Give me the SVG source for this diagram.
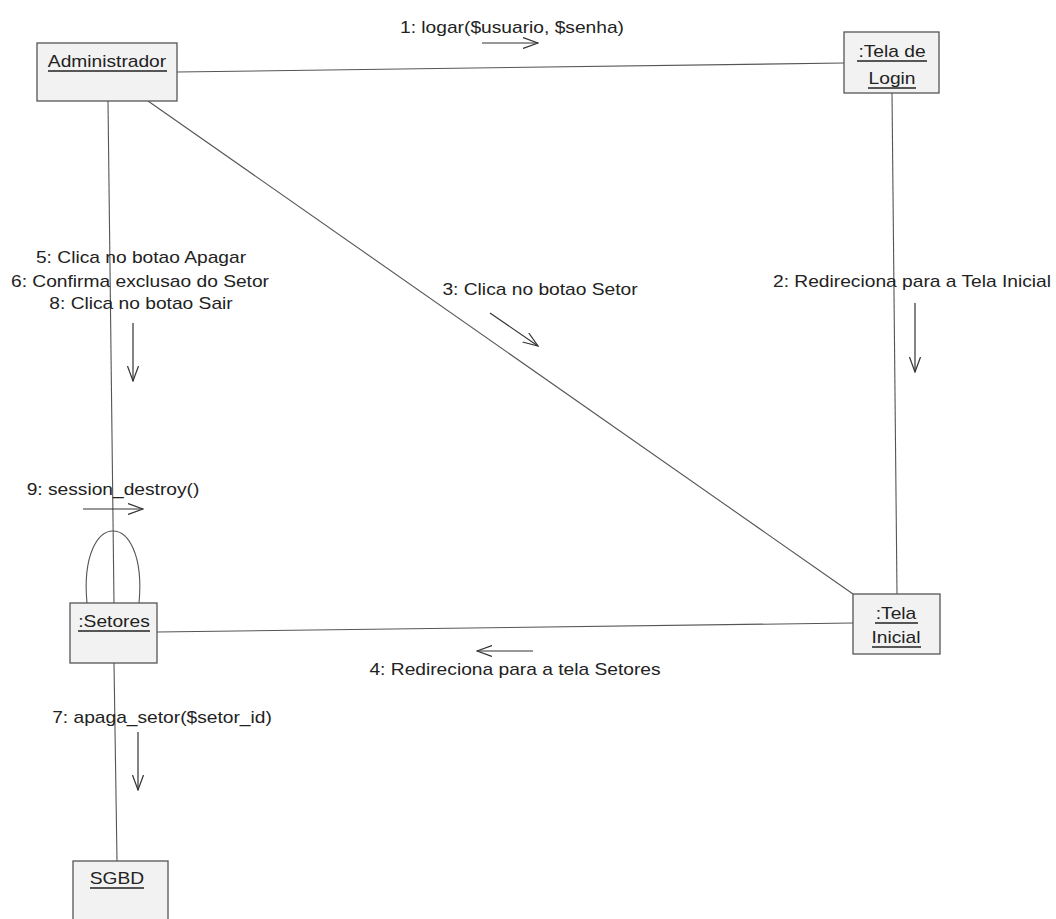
<svg xmlns="http://www.w3.org/2000/svg" width="1056" height="919" viewBox="0 0 1056 919">
<style>
.bg{fill:#ffffff}
.box{fill:#f2f2f2;stroke:#555;stroke-width:1.3}
.ln{fill:none;stroke:#555;stroke-width:1.1}
.arr{fill:none;stroke:#333;stroke-width:1.2;marker-end:url(#v)}
.t{font-family:"Liberation Sans",Arial,sans-serif;font-size:16px;fill:#222;text-anchor:middle}
.ul{stroke:#222;stroke-width:1.6}
</style>
<defs>
<marker id="v" viewBox="0 0 16 12" refX="15" refY="6" markerWidth="16" markerHeight="12" markerUnits="userSpaceOnUse" orient="auto">
<path d="M0,0.5 L15,6 L0,11.5" fill="none" stroke="#333" stroke-width="1.2"/>
</marker>
</defs>
<rect class="bg" x="0" y="0" width="1056" height="919"/>
<g id="connectors">
<line class="ln" x1="177" y1="72" x2="844" y2="63"/>
<line class="ln" x1="108" y1="101" x2="114" y2="603"/>
<line class="ln" x1="148" y1="101" x2="853" y2="594"/>
<line class="ln" x1="892" y1="93" x2="897" y2="594"/>
<line class="ln" x1="157" y1="632" x2="853" y2="623"/>
<line class="ln" x1="114" y1="663" x2="117" y2="861"/>
<path class="ln" d="M87,603 C78,507 148,507 139,603"/>
<text class="t" transform="translate(512,33) scale(1.2,1)">1: logar($usuario, $senha)</text>
<line class="arr" x1="482" y1="43" x2="538" y2="43"/>
<text class="t" transform="translate(912,287) scale(1.2,1)">2: Redireciona para a Tela Inicial</text>
<line class="arr" x1="915" y1="303" x2="915" y2="372"/>
<text class="t" transform="translate(540,295) scale(1.2,1)">3: Clica no botao Setor</text>
<line class="arr" x1="490" y1="313" x2="538" y2="346"/>
<text class="t" transform="translate(515,675) scale(1.2,1)">4: Redireciona para a tela Setores</text>
<line class="arr" x1="533" y1="651" x2="477" y2="651"/>
<text class="t" transform="translate(141,263) scale(1.2,1)">5: Clica no botao Apagar</text>
<text class="t" transform="translate(140,287) scale(1.2,1)">6: Confirma exclusao do Setor</text>
<text class="t" transform="translate(141,309) scale(1.2,1)">8: Clica no botao Sair</text>
<line class="arr" x1="133" y1="323" x2="133" y2="381"/>
<text class="t" transform="translate(113,495) scale(1.2,1)">9: session_destroy()</text>
<line class="arr" x1="83" y1="509" x2="143" y2="509"/>
<text class="t" transform="translate(162,723) scale(1.2,1)">7: apaga_setor($setor_id)</text>
<line class="arr" x1="138" y1="732" x2="138" y2="790"/>
</g>
<g id="administrador">
<rect class="box" x="37" y="43" width="140" height="58"/>
<text class="t" transform="translate(107,67) scale(1.2,1)">Administrador</text>
<line class="ul" x1="48" y1="71" x2="167" y2="71"/>
</g>
<g id="tela-login">
<rect class="box" x="844" y="32" width="95" height="61"/>
<text class="t" transform="translate(892,57) scale(1.2,1)">:Tela de</text>
<line class="ul" x1="857" y1="61" x2="927" y2="61"/>
<text class="t" transform="translate(892,84) scale(1.2,1)">Login</text>
<line class="ul" x1="868" y1="88" x2="916" y2="88"/>
</g>
<g id="tela-inicial">
<rect class="box" x="853" y="594" width="87" height="60"/>
<text class="t" transform="translate(896,619) scale(1.2,1)">:Tela</text>
<line class="ul" x1="875" y1="623" x2="918" y2="623"/>
<text class="t" transform="translate(896,643) scale(1.2,1)">Inicial</text>
<line class="ul" x1="872" y1="647" x2="921" y2="647"/>
</g>
<g id="setores">
<rect class="box" x="70" y="603" width="87" height="60"/>
<text class="t" transform="translate(114,627) scale(1.2,1)">:Setores</text>
<line class="ul" x1="78" y1="631" x2="150" y2="631"/>
</g>
<g id="sgbd">
<rect class="box" x="73" y="861" width="95" height="70"/>
<text class="t" transform="translate(117,884) scale(1.2,1)">SGBD</text>
<line class="ul" x1="90" y1="888" x2="144" y2="888"/>
</g>
</svg>
